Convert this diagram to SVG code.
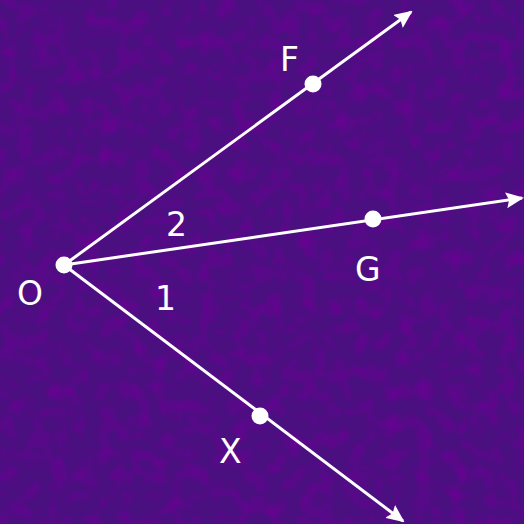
<svg xmlns="http://www.w3.org/2000/svg" width="524" height="524" viewBox="0 0 524 524">
  <defs>
    <style>
      .ray { stroke: #ffffff; stroke-width: 3; fill: none; }
      .pt { fill: #ffffff; }
      .lbl { fill: #ffffff; font-family: "DejaVu Sans", Verdana, sans-serif; font-size: 33px; }
    </style>
    <marker id="arrow" viewBox="0 0 18 16" refX="16" refY="8" markerWidth="18" markerHeight="16" markerUnits="userSpaceOnUse" orient="auto">
      <path d="M0,0 L18,8 L0,16 L3,8 z" fill="#ffffff"/>
    </marker>
    <filter id="noise" x="0" y="0" width="100%" height="100%">
      <feTurbulence type="fractalNoise" baseFrequency="0.06" numOctaves="3" seed="7" result="n"/>
      <feColorMatrix in="n" type="matrix" values="0 0 0 0 0.15  0 0 0 0 0.0  0 0 0 0 0.3  0 0 0 2.2 -0.9"/>
    </filter>
  </defs>
  <rect x="0" y="0" width="524" height="524" fill="#4a1080"/>
  <rect x="0" y="0" width="524" height="524" filter="url(#noise)" opacity="0.8"/>
  <g id="connectors">
    <line class="ray" x1="64" y1="265" x2="411" y2="12" marker-end="url(#arrow)"/>
    <line class="ray" x1="64" y1="265" x2="522" y2="198" marker-end="url(#arrow)"/>
    <line class="ray" x1="64" y1="265" x2="403" y2="521" marker-end="url(#arrow)"/>
  </g>
  <g id="O">
    <circle class="pt" cx="64" cy="265" r="8.5"/>
    <text class="lbl" x="17" y="305">O</text>
  </g>
  <g id="F">
    <circle class="pt" cx="313" cy="84" r="8.5"/>
    <text class="lbl" x="280" y="71">F</text>
  </g>
  <g id="G">
    <circle class="pt" cx="373" cy="219" r="8.5"/>
    <text class="lbl" x="355" y="281">G</text>
  </g>
  <g id="X">
    <circle class="pt" cx="260" cy="416" r="8.5"/>
    <text class="lbl" x="219" y="463">X</text>
  </g>
  <g id="angle2">
    <text class="lbl" x="166" y="236">2</text>
  </g>
  <g id="angle1">
    <text class="lbl" x="155" y="310">1</text>
  </g>
</svg>
